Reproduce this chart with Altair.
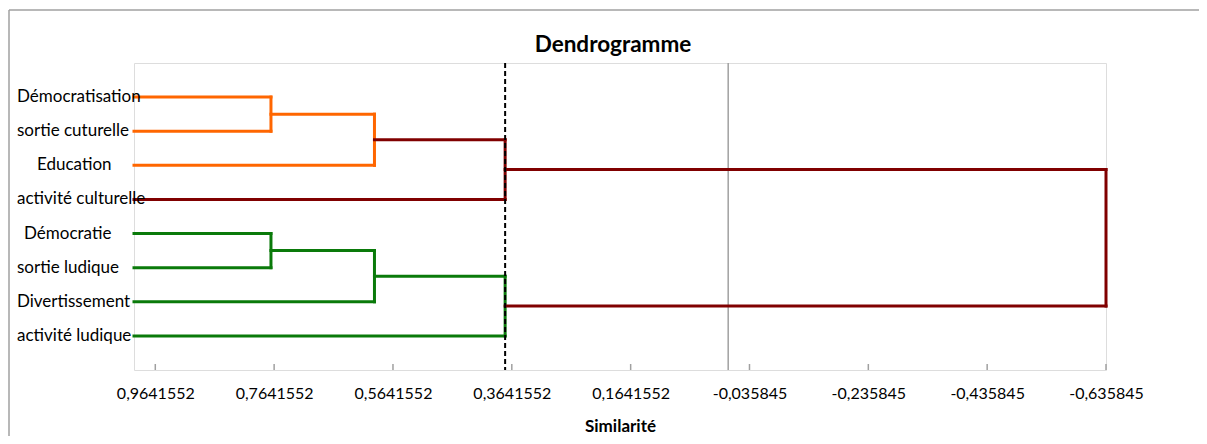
import altair as alt
import pandas as pd

# ---------------- data ----------------
labels = ["Démocratisation", "sortie cuturelle", "Education", "activité culturelle",
          "Démocratie", "sortie ludique", "Divertissement", "activité ludique"]
leaf_similarity = 1.0
# merge nodes: (child a, child b, similarity) ; children 0..7 are leaves, 8.. are nodes
merge_a = [0, 8, 9, 4, 11, 12, 10]
merge_b = [1, 2, 3, 5, 6, 7, 13]
merge_sim = [0.7695, 0.5953, 0.3754, 0.7695, 0.5953, 0.3754, -0.635845]
merge_group = ["c1", "c1", "top", "c2", "c2", "c2", "top"]
truncation = 0.3754
tick_values = [0.9641552, 0.7641552, 0.5641552, 0.3641552, 0.1641552,
               -0.035845, -0.235845, -0.435845, -0.635845]
x_min, x_max = -0.635845, 1.0

# ---------------- build segments ----------------
pos_x = {i: leaf_similarity for i in range(len(labels))}
pos_y = {i: i + 1 for i in range(len(labels))}
segs = []
for k, (a, b, s, g) in enumerate(zip(merge_a, merge_b, merge_sim, merge_group)):
    nid = len(labels) + k
    pos_x[nid] = s
    pos_y[nid] = (pos_y[a] + pos_y[b]) / 2
    segs.append(dict(x=pos_x[a], x2=s, y=pos_y[a], y2=pos_y[a], g=g))
    segs.append(dict(x=pos_x[b], x2=s, y=pos_y[b], y2=pos_y[b], g=g))
    segs.append(dict(x=s, x2=s, y=pos_y[a], y2=pos_y[b], g=g))
seg_df = pd.DataFrame(segs)

# ---------------- style ----------------
W, H = 972, 307
GREY = "#A0A0A0"
FONT = "Lato"
label_x = {"Education": -97, "Démocratie": -110}
lab_df = pd.DataFrame({"label": labels, "y": [pos_y[i] for i in range(len(labels))],
                       "lx": [label_x.get(l, -117) for l in labels]})
tick_df = pd.DataFrame({"t": tick_values})

xs = alt.Scale(domain=[x_min, x_max], reverse=True, nice=False, zero=False)
ys = alt.Scale(domain=[0, 9], reverse=True, nice=False, zero=False)

xaxis = alt.Axis(values=tick_values, labelExpr="replace(toString(datum.value), '.', ',')",
                 tickSize=0, domain=False, grid=False, labelFont=FONT, labelFontSize=16,
                 labelColor="#000000", labelPadding=15, labelFlush=False,
                 title="Similarité", titleFont=FONT, titleFontSize=17, titleFontWeight="bold",
                 titleColor="#000000", titlePadding=17)

one = pd.DataFrame({"a": [0]})
frame_top = alt.Chart(one).mark_rule(color=GREY, strokeWidth=1.5).encode(
    x=alt.value(-125), x2=alt.value(W + 120), y=alt.value(-53))
frame_left = alt.Chart(one).mark_rule(color=GREY, strokeWidth=1.5).encode(
    x=alt.value(-125), y=alt.value(-53), y2=alt.value(H + 120))

zero_line = alt.Chart(pd.DataFrame({"z": [0.0]})).mark_rule(color=GREY, strokeWidth=1.5).encode(
    x=alt.X("z:Q", scale=xs, axis=xaxis), y=alt.value(0), y2=alt.value(H))

ticks = alt.Chart(tick_df).mark_rule(color=GREY, strokeWidth=1.5).encode(
    x=alt.X("t:Q", scale=xs), y=alt.value(H - 6), y2=alt.value(H))

tree = alt.Chart(seg_df).mark_rule(strokeWidth=3, strokeCap="square").encode(
    x=alt.X("x:Q", scale=xs), x2="x2:Q",
    y=alt.Y("y:Q", scale=ys, axis=None), y2="y2:Q",
    color=alt.Color("g:N", scale=alt.Scale(domain=["c1", "c2", "top"],
                                           range=["#FF6600", "#0A7A0A", "#800000"]), legend=None))

cut = alt.Chart(pd.DataFrame({"c": [truncation]})).mark_rule(
    color="#000000", strokeWidth=2, strokeDash=[5, 3]).encode(
    x=alt.X("c:Q", scale=xs), y=alt.value(0), y2=alt.value(H))

leaf_text = alt.Chart(lab_df).mark_text(align="left", baseline="middle", font=FONT,
                                        fontSize=17, color="#000000").encode(
    x=alt.X("lx:Q", scale=None), y=alt.Y("y:Q", scale=ys), text="label:N")

title = alt.Chart(pd.DataFrame({"t": ["Dendrogramme"]})).mark_text(
    align="center", baseline="alphabetic", font=FONT, fontSize=22.5, fontWeight="bold",
    color="#000000").encode(x=alt.value(W / 2 - 7), y=alt.value(-11), text="t:N")

chart = alt.layer(frame_top, frame_left, zero_line, ticks, tree, cut, leaf_text, title).properties(
    width=W, height=H, autosize="none",
    padding={"left": 126, "top": 55, "right": 93, "bottom": 66},
).configure_view(stroke=GREY, strokeWidth=1.5).configure(background="white")

chart.save("out.html", embed_options={"renderer": "svg", "actions": False})
